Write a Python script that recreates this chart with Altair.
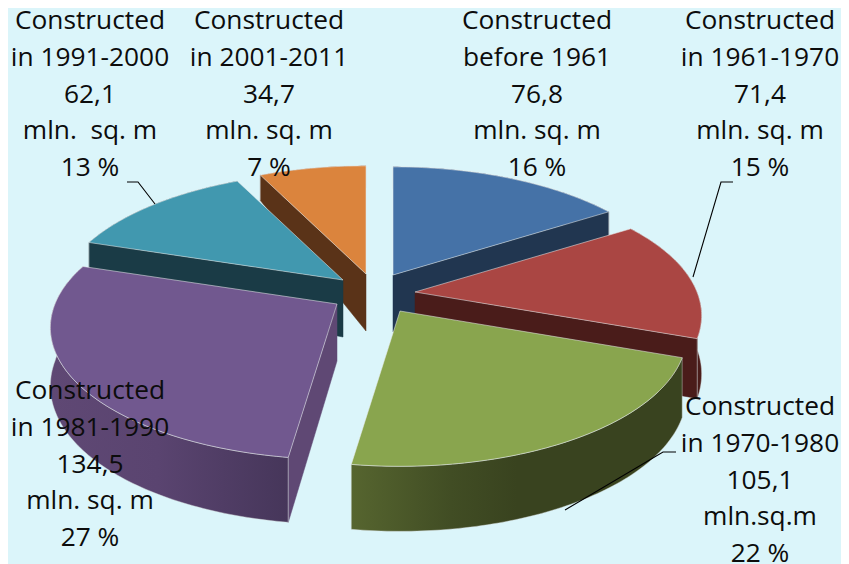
import math
import altair as alt

categories = ["before 1961", "in 1961-1970", "in 1970-1980", "in 1981-1990", "in 1991-2000", "in 2001-2011"]
values = [76.8, 71.4, 105.1, 134.5, 62.1, 34.7]
value_labels = ["76,8", "71,4", "105,1", "134,5", "62,1", "34,7"]
unit_labels = ["mln. sq. m", "mln. sq. m", "mln.sq.m", "mln. sq. m", "mln.\u00a0 sq. m", "mln. sq. m"]
pct_labels = ["16 %", "15 %", "22 %", "27 %", "13 %", "7 %"]
top_colors = ["#4572a7", "#aa4643", "#89a54e", "#71588f", "#4198af", "#db843d"]
wall_colors = ["#213650", "#4a1c1a", "#3a431f", "#5f4874", "#1a3b46", "#5a3318"]
apex = [(393, 273), (415, 290), (400, 309), (337, 302), (343, 278), (366, 272)]
label_pos = [(537, 19), (760, 19), (760, 405), (90, 389), (90, 19), (269, 19)]
visible_cut = ["end", "end", None, "start", "start", "start"]
draw_order = [5, 4, 0, 1, 3, 2]
leaders = [
    [(127, 180), (138, 180), (155, 202)],
    [(733, 180), (721, 180), (693, 275)],
    [(676, 450), (663, 450), (565, 508)],
]

R, RC, K = 282, 127.5, 0.179
LINE_GAP = 36.8
X = alt.X("x:Q", scale=alt.Scale(domain=[8, 841], nice=False, zero=False), axis=None)
Y = alt.Y("y:Q", scale=alt.Scale(domain=[564, 8], nice=False, zero=False), axis=None)


def depth(v):
    return 57 - 8 * v if v <= 0 else 57 - 35 * v


def rim(theta_deg, ax, ay, drop=False):
    t = math.radians(theta_deg)
    u, v = math.sin(t), math.cos(t)
    s = 1 / (1 + K * v)
    x = ax + R * u * s
    y = ay - RC * v * s
    if drop:
        y += depth(v)
    return x, y


def poly(points, **style):
    pts = list(points) + [points[0]]
    rows = [{"x": p[0], "y": p[1], "i": i} for i, p in enumerate(pts)]
    return (
        alt.Chart(alt.Data(values=rows))
        .mark_line(interpolate="linear", strokeJoin="round", **style)
        .encode(x=X, y=Y, order="i:Q")
    )


def line(points, **style):
    rows = [{"x": p[0], "y": p[1], "i": i} for i, p in enumerate(points)]
    return (
        alt.Chart(alt.Data(values=rows))
        .mark_line(**style)
        .encode(x=X, y=Y, order="i:Q")
    )


def wall_fill(i):
    if i == 3:
        return alt.Gradient(gradient="linear", x1=0, x2=1, y1=0, y2=0,
                            stops=[alt.GradientStop(offset=0, color="#5f4874"),
                                   alt.GradientStop(offset=0.45, color="#5a4470"),
                                   alt.GradientStop(offset=1, color="#46365a")])
    if i == 2:
        return alt.Gradient(gradient="linear", x1=0, x2=1, y1=0, y2=0,
                            stops=[alt.GradientStop(offset=0, color="#56652f"),
                                   alt.GradientStop(offset=0.3, color="#414d24"),
                                   alt.GradientStop(offset=0.5, color="#39431f"),
                                   alt.GradientStop(offset=1, color="#39431f")])
    return wall_colors[i]


total = sum(values)
bounds = [0.0]
for val in values:
    bounds.append(bounds[-1] + val / total * 360)

layers = []
for i in draw_order:
    t0, t1 = bounds[i], bounds[i + 1]
    ax, ay = apex[i]
    steps = max(2, int(t1 - t0))
    thetas = [t0 + (t1 - t0) * j / steps for j in range(steps + 1)]
    top = [rim(t, ax, ay) for t in thetas]
    bottom = [rim(t, ax, ay, True) for t in thetas]
    apex_low = (ax, ay + depth(0))
    # outer wall
    layers.append(poly(top + bottom[::-1], fill=wall_fill(i), stroke="#d0d6d6", strokeWidth=0.8, strokeOpacity=0.55))
    # the radial cut wall that faces the viewer
    if visible_cut[i]:
        k = 0 if visible_cut[i] == "start" else -1
        layers.append(poly([(ax, ay), top[k], bottom[k], apex_low],
                           fill=wall_colors[i], stroke=wall_colors[i], strokeWidth=0.5))
        layers.append(line([top[k], bottom[k]], stroke="#d0d6d6", strokeWidth=0.8, strokeOpacity=0.55))
    # top face
    layers.append(poly([(ax, ay)] + top, fill=top_colors[i], stroke="#e8ecec", strokeWidth=0.9, strokeOpacity=0.6))

for pts in leaders:
    layers.append(line(pts, color="black", strokeWidth=1.1))

text_rows = []
for i, cat in enumerate(categories):
    lx, ly = label_pos[i]
    lines = ["Constructed", cat, value_labels[i], unit_labels[i], pct_labels[i]]
    for j, s in enumerate(lines):
        text_rows.append({"x": lx, "y": ly + j * LINE_GAP, "t": s})

layers.append(
    alt.Chart(alt.Data(values=text_rows))
    .mark_text(font="Open Sans", fontSize=26.3, color="#0c0c0c", align="center", baseline="middle")
    .encode(x=X, y=Y, text="t:N")
)

chart = (
    alt.layer(*layers)
    .properties(width=833, height=556, padding=0, background="#dbf5fa")
    .configure_view(stroke=None, fill="#dbf5fa")
)
chart.save("out.html", embed_options={"renderer": "svg", "actions": False})
